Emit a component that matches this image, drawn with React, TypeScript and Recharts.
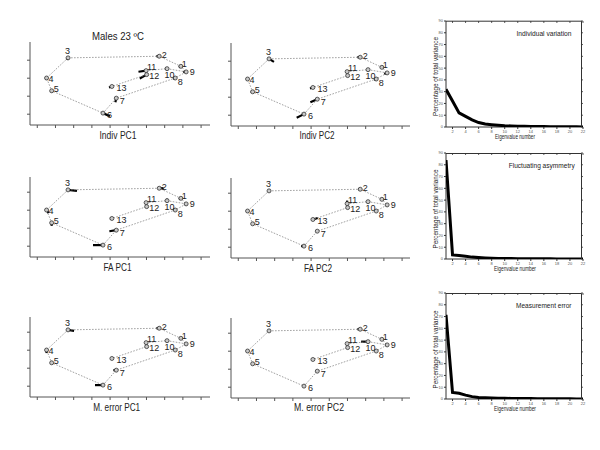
import React from 'react';
import { ScatterChart, Scatter, XAxis, YAxis, ReferenceLine } from 'recharts';

const FONT = '"Liberation Sans", Arial, sans-serif';

// ---- Landmark configuration (mean shape) ----
const landmarkIds = [1, 2, 3, 4, 5, 6, 7, 8, 9, 10, 11, 12, 13];
const landmarkX = [7.89, 6.7, 1.69, 0.51, 0.79, 3.61, 4.34, 7.58, 8.18, 7.13, 5.98, 6.01, 4.1];
const landmarkY = [2.66, 3.22, 3.13, 2.01, 1.3, 0.06, 0.89, 2.01, 2.35, 2.53, 2.42, 2.2, 1.54];
const outlineOrder = [3, 2, 1, 9, 8, 7, 6, 5, 4, 3];
const innerOrder = [9, 10, 11, 12, 13];

// ---- PC shape-change vectors per landmark (data units) ----
const indivPC1dx = [-0.11, -0.16, -0.05, 0, -0.05, 0.38, -0.05, -0.11, -0.16, -0.11, -0.42, -0.38, -0.16];
const indivPC1dy = [-0.06, 0, -0.11, -0.11, -0.06, -0.17, -0.22, -0.06, 0, 0, -0.06, -0.22, -0.06];
const indivPC2dx = [-0.05, -0.16, 0.27, -0.05, -0.11, -0.4, -0.38, -0.11, -0.16, -0.05, 0, 0, -0.16];
const indivPC2dy = [0, 0, -0.17, 0, 0, -0.2, -0.17, -0.06, -0.06, 0, -0.06, -0.06, -0.06];
const faPC1dx = [-0.11, 0.24, 0.49, 0.11, 0, -0.55, -0.38, -0.11, -0.05, 0, 0, 0, -0.11];
const faPC1dy = [-0.06, 0, -0.06, -0.17, -0.17, 0, -0.06, 0.06, -0.06, 0.11, 0.06, 0.06, 0];
const faPC2dx = [-0.05, -0.11, -0.05, 0, -0.05, -0.16, -0.05, -0.05, -0.05, -0.05, 0, 0, 0.27];
const faPC2dy = [0, 0, 0, -0.06, 0, 0, 0, 0, 0, 0, 0.17, 0.11, 0.08];
const mePC1dx = [-0.05, -0.16, 0.33, 0, -0.05, -0.44, -0.16, -0.05, -0.05, 0, 0, 0, -0.05];
const mePC1dy = [0, 0, -0.06, -0.17, 0, 0, 0, 0, 0, 0.06, 0.06, 0.11, 0];
const mePC2dx = [-0.05, -0.16, -0.05, 0, -0.05, -0.05, -0.05, -0.05, -0.11, -0.38, 0, 0, -0.05];
const mePC2dy = [0, 0, 0, -0.06, 0, 0, 0, 0, 0, 0, 0, 0.06, 0];

// ---- Eigenvalue spectra (% of total variance) ----
const eigenNumbers = [1, 2, 3, 4, 5, 6, 7, 8, 9, 10, 11, 12, 13, 14, 15, 16, 17, 18, 19, 20, 21, 22];
const indivVariance = [32, 22, 12, 9, 6, 3.8, 2.5, 2, 1.5, 1.1, 0.9, 0.7, 0.6, 0.5, 0.4, 0.35, 0.3, 0.25, 0.2, 0.2, 0.15, 0.1];
const faVariance = [84, 3.5, 3.0, 2.3, 1.6, 1.2, 0.9, 0.7, 0.5, 0.4, 0.35, 0.3, 0.25, 0.2, 0.2, 0.15, 0.15, 0.1, 0.1, 0.1, 0.05, 0.05];
const meVariance = [71.5, 5.5, 4.8, 3.3, 2.0, 1.3, 1.0, 0.8, 0.7, 0.6, 0.5, 0.45, 0.4, 0.35, 0.3, 0.3, 0.25, 0.2, 0.2, 0.15, 0.1, 0.1];
const eigenTicks = [2, 4, 6, 8, 10, 12, 14, 16, 18, 20, 22];
const percentTicks = [0, 10, 20, 30, 40, 50, 60, 70, 80, 90];
const eigenDomain = [1, 22];
const percentDomain = [0, 90];

// ---- Tick positions of the shape panels ----
const shapeXTicks = [0, 1, 2, 3, 4, 5, 6, 7, 8, 9];
const shapeYTicks = [0, 1, 2, 3];

// ---- Styles / layout ----
const labelOffsets: Record<number, [number, number]> = {
  1: [3.5, -2.5], 2: [5, -1], 3: [-0.5, -6.5], 4: [4.5, 1], 5: [4.5, -2], 6: [6.5, 1.5],
  7: [6, 2.5], 8: [5, 3.5], 9: [6, 0], 10: [2.5, 6], 11: [5.5, -4], 12: [7.5, 1], 13: [9.5, 2],
};

const PX_PER_UNIT = 18;
const EIGEN_LEFT = 446;
const EIGEN_W = 136;
const EIGEN_H = 106;
const EIGEN_TOPS = [20.7, 153, 293];

const Empty = () => <g />;

const PointShape = (props: any) => {
  const { cx, cy, payload } = props;
  const off = labelOffsets[payload.id];
  return (
    <g>
      <circle cx={cx} cy={cy} r={2} fill="#c8c8c8" stroke="#333" strokeWidth={0.8} />
      <text x={cx + off[0]} y={cy + off[1]} fontSize={9} fontFamily={FONT} fill="#222"
        textAnchor="middle" dominantBaseline="central">{payload.id}</text>
    </g>
  );
};

type ShapeProps = { dx: number[]; dy: number[]; left: number; bottom: number; width: number; height: number };

function ShapePanel({ dx, dy, left, bottom, width, height }: ShapeProps) {
  const m = 10;
  const points = landmarkIds.map((id, i) => ({ id, x: landmarkX[i], y: landmarkY[i] }));
  const byId = (id: number) => points[id - 1];
  const outline = outlineOrder.map(byId);
  const inner = innerOrder.map(byId);
  const xDomain = [-0.4, -0.4 + width / 18.2];
  const yDomain = [-0.6, -0.6 + height / PX_PER_UNIT];
  const lineStyle = { stroke: '#8a8a8a', strokeWidth: 0.8, strokeDasharray: '1.6 1.4' };
  return (
    <div style={{ position: 'absolute', left: left - m - 1, top: bottom - height - m }}>
      <ScatterChart width={width + 2 * m + 1} height={height + 2 * m + 1} margin={{ top: m, right: m, bottom: m, left: m }}>
        <XAxis type="number" dataKey="x" domain={xDomain} allowDataOverflow ticks={shapeXTicks} interval={0}
          tickFormatter={() => ''} height={1} tickSize={3} stroke="#555" />
        <YAxis type="number" dataKey="y" domain={yDomain} allowDataOverflow ticks={shapeYTicks} interval={0}
          tickFormatter={() => ''} width={1} tickSize={3} stroke="#555" />
        <Scatter data={outline} line={lineStyle} lineType="joint" shape={Empty} isAnimationActive={false} />
        <Scatter data={inner} line={lineStyle} lineType="joint" shape={Empty} isAnimationActive={false} />
        <Scatter data={points} shape={PointShape} isAnimationActive={false} />
        {points.map((p, i) => (
          <ReferenceLine key={i} ifOverflow="visible" stroke="#000" strokeWidth={2.2}
            segment={[{ x: p.x, y: p.y }, { x: p.x + dx[i], y: p.y + dy[i] }]} />
        ))}
      </ScatterChart>
    </div>
  );
}

type EigenProps = { values: number[]; top: number };

function EigenPanel({ values, top }: EigenProps) {
  const data = eigenNumbers.map((n, i) => ({ n, v: values[i] }));
  const tickStyle = { fontSize: 4, fill: '#555', fontFamily: FONT };
  const [xMin, xMax] = eigenDomain;
  const [yMin, yMax] = percentDomain;
  const xTickLen = (xMax - xMin) * 2 / EIGEN_W;
  const yTickLen = (yMax - yMin) * 2 / EIGEN_H;
  return (
    <div style={{ position: 'absolute', left: EIGEN_LEFT - 31, top: top - 9 }}>
      <ScatterChart width={EIGEN_W + 42} height={EIGEN_H + 30} margin={{ top: 9, right: 10, bottom: 20, left: 30 }}>
        <XAxis type="number" dataKey="n" domain={eigenDomain} allowDataOverflow ticks={eigenTicks} interval={0}
          height={1} tickSize={2} tickMargin={1.5} tick={tickStyle} stroke="#333" />
        <YAxis type="number" dataKey="v" domain={percentDomain} allowDataOverflow ticks={percentTicks} interval={0}
          width={1} tickSize={2} tickMargin={1} tick={tickStyle} stroke="#333" />
        <Scatter data={data} line={{ stroke: '#000', strokeWidth: 3 }} lineType="joint" shape={Empty}
          isAnimationActive={false} />
        {eigenTicks.map((t) => (
          <ReferenceLine key={'t' + t} ifOverflow="visible" stroke="#333" strokeWidth={0.8}
            segment={[{ x: t, y: yMax }, { x: t, y: yMax - yTickLen }]} />
        ))}
        {percentTicks.map((t) => (
          <ReferenceLine key={'r' + t} ifOverflow="visible" stroke="#333" strokeWidth={0.8}
            segment={[{ x: xMax, y: t }, { x: xMax - xTickLen, y: t }]} />
        ))}
      </ScatterChart>
    </div>
  );
}

const T = (p: { x: number; y: number; s: number; len?: number; rot?: boolean; children: string }) => (
  <text x={p.x} y={p.y} fontSize={p.s} fontFamily={FONT} fill="#222" textAnchor="middle"
    dominantBaseline="central" textLength={p.len} lengthAdjust={p.len ? 'spacingAndGlyphs' : undefined}
    transform={p.rot ? `rotate(-90 ${p.x} ${p.y})` : undefined}>{p.children}</text>
);

export default function App() {
  return (
    <div style={{ position: 'absolute', left: 0, top: 0, width: 600, height: 450, background: '#fff', overflow: 'hidden' }}>
      <ShapePanel dx={indivPC1dx} dy={indivPC1dy} left={30} bottom={125} width={180} height={83} />
      <ShapePanel dx={indivPC2dx} dy={indivPC2dy} left={230.7} bottom={125.5} width={179} height={83} />
      <ShapePanel dx={faPC1dx} dy={faPC1dy} left={30} bottom={257.3} width={180} height={80} />
      <ShapePanel dx={faPC2dx} dy={faPC2dy} left={230.7} bottom={258.3} width={179} height={80} />
      <ShapePanel dx={mePC1dx} dy={mePC1dy} left={30} bottom={397.3} width={180} height={80} />
      <ShapePanel dx={mePC2dx} dy={mePC2dy} left={230.7} bottom={398.3} width={179} height={80} />

      <EigenPanel values={indivVariance} top={EIGEN_TOPS[0]} />
      <EigenPanel values={faVariance} top={EIGEN_TOPS[1]} />
      <EigenPanel values={meVariance} top={EIGEN_TOPS[2]} />

      <svg width={600} height={450} style={{ position: 'absolute', left: 0, top: 0, pointerEvents: 'none' }}>
        {EIGEN_TOPS.map((t) => (
          <path key={t} d={`M${EIGEN_LEFT} ${t + 0.5} H${EIGEN_LEFT + EIGEN_W - 0.5} V${t + EIGEN_H}`}
            fill="none" stroke="#333" strokeWidth={1} />
        ))}

        <T x={118} y={36} s={10} len={52}>Males 23 ºC</T>
        <T x={118} y={135} s={10} len={37}>Indiv PC1</T>
        <T x={317} y={135} s={10} len={35}>Indiv PC2</T>
        <T x={117.5} y={267} s={10} len={28}>FA PC1</T>
        <T x={318} y={268} s={10} len={28}>FA PC2</T>
        <T x={116.7} y={407.3} s={10} len={47}>M. error PC1</T>
        <T x={319} y={407.3} s={10} len={50}>M. error PC2</T>

        <T x={544} y={33.3} s={7.5} len={55}>Individual variation</T>
        <T x={541.7} y={165} s={7.5} len={66}>Fluctuating asymmetry</T>
        <T x={543.8} y={305} s={7.5} len={55.5}>Measurement error</T>

        <T x={435} y={76.5} s={7} len={79} rot>Percentage of total variance</T>
        <T x={435} y={209} s={7} len={79} rot>Percentage of total variance</T>
        <T x={435} y={349.5} s={7} len={78} rot>Percentage of total variance</T>
        <T x={515} y={136.5} s={6.5} len={40}>Eigenvalue number</T>
        <T x={515} y={268.5} s={6.5} len={42}>Eigenvalue number</T>
        <T x={515} y={408.5} s={6.5} len={42}>Eigenvalue number</T>
      </svg>
    </div>
  );
}
